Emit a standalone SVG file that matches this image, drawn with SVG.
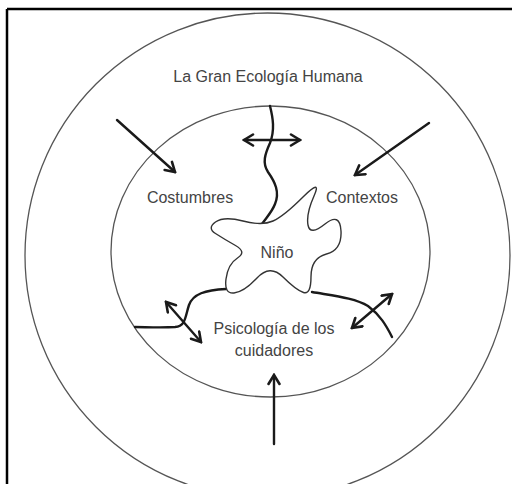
<svg xmlns="http://www.w3.org/2000/svg" width="512" height="484" viewBox="0 0 512 484">
<defs>
<style>
.ring{fill:none;stroke:#555;stroke-width:1.3}
.lbl{font-family:"Liberation Sans",Arial,sans-serif;font-size:16px;fill:#444;text-anchor:middle}
.arr{fill:none;stroke:#1a1a1a;stroke-width:2.4;stroke-linecap:round}
.wave{fill:none;stroke:#1a1a1a;stroke-width:2.4;stroke-linecap:round}
.blob{fill:#fff;stroke:#333;stroke-width:1.4}
</style>
<marker id="ah" markerUnits="userSpaceOnUse" markerWidth="14" markerHeight="14" viewBox="0 0 14 14" refX="12" refY="7" orient="auto-start-reverse">
<path d="M3,1.5 L12,7 L3,12.5" fill="none" stroke="#1a1a1a" stroke-width="2.6" stroke-linecap="round" stroke-linejoin="miter"/>
</marker>
</defs>
<rect width="512" height="484" fill="#fff"/>
<path d="M7,9 L512,9 M7,9 L7,484" fill="none" stroke="#000" stroke-width="2.5"/>
<g id="outer">
<circle class="ring" cx="267.5" cy="255.5" r="242.5"/>
<text class="lbl" x="268" y="82">La Gran Ecología Humana</text>
</g>
<g id="inner">
<ellipse class="ring" cx="270.5" cy="251.5" rx="159.5" ry="145.5"/>
<text class="lbl" x="190" y="203">Costumbres</text>
<text class="lbl" x="362" y="203">Contextos</text>
<text class="lbl" x="274" y="334">Psicología de los</text>
<text class="lbl" x="274" y="356">cuidadores</text>
</g>
<g id="connectors">
<path class="wave" d="M270,106 C273,118 275,130 270,143 C265,154 262,163 268,172 C275,182 280,192 275,204 C272,212 266,218 262,224"/>
<path class="wave" d="M226,289 C205,290 193,294 189,305 C185,317 186,326 175,327 C160,328 145,327 135,327"/>
<path class="wave" d="M312,292 C335,296 355,298 368,306 C380,315 386,325 392,337"/>
<line class="arr" x1="117" y1="120" x2="175" y2="172" marker-end="url(#ah)"/>
<line class="arr" x1="429" y1="123" x2="355" y2="175" marker-end="url(#ah)"/>
<line class="arr" x1="274" y1="444" x2="274" y2="375" marker-end="url(#ah)"/>
<line class="arr" x1="244" y1="140" x2="300" y2="140" marker-start="url(#ah)" marker-end="url(#ah)"/>
<line class="arr" x1="166" y1="302" x2="201" y2="342" marker-start="url(#ah)" marker-end="url(#ah)"/>
<line class="arr" x1="352" y1="328" x2="392" y2="294" marker-start="url(#ah)" marker-end="url(#ah)"/>
</g>
<g id="nino">
<path class="blob" d="M303,197 Q322,178 314,196 Q306,214 308,225 Q310,236 325,224 Q340,212 341,231 Q342,250 326.5,254 Q311,258 311,276.5 Q311,295 303.5,292.5 Q296,290 283,277 Q270,264 257,278 Q244,292 234,293 Q224,294 226,279 Q228,264 237.5,258 Q247,252 235.5,245.5 Q224,239 215.5,233.5 Q207,228 215.5,222 Q224,216 243,221 Q262,226 273,221 Q284,216 303,197 Z"/>
<text class="lbl" x="277" y="258">Niño</text>
</g>
</svg>
